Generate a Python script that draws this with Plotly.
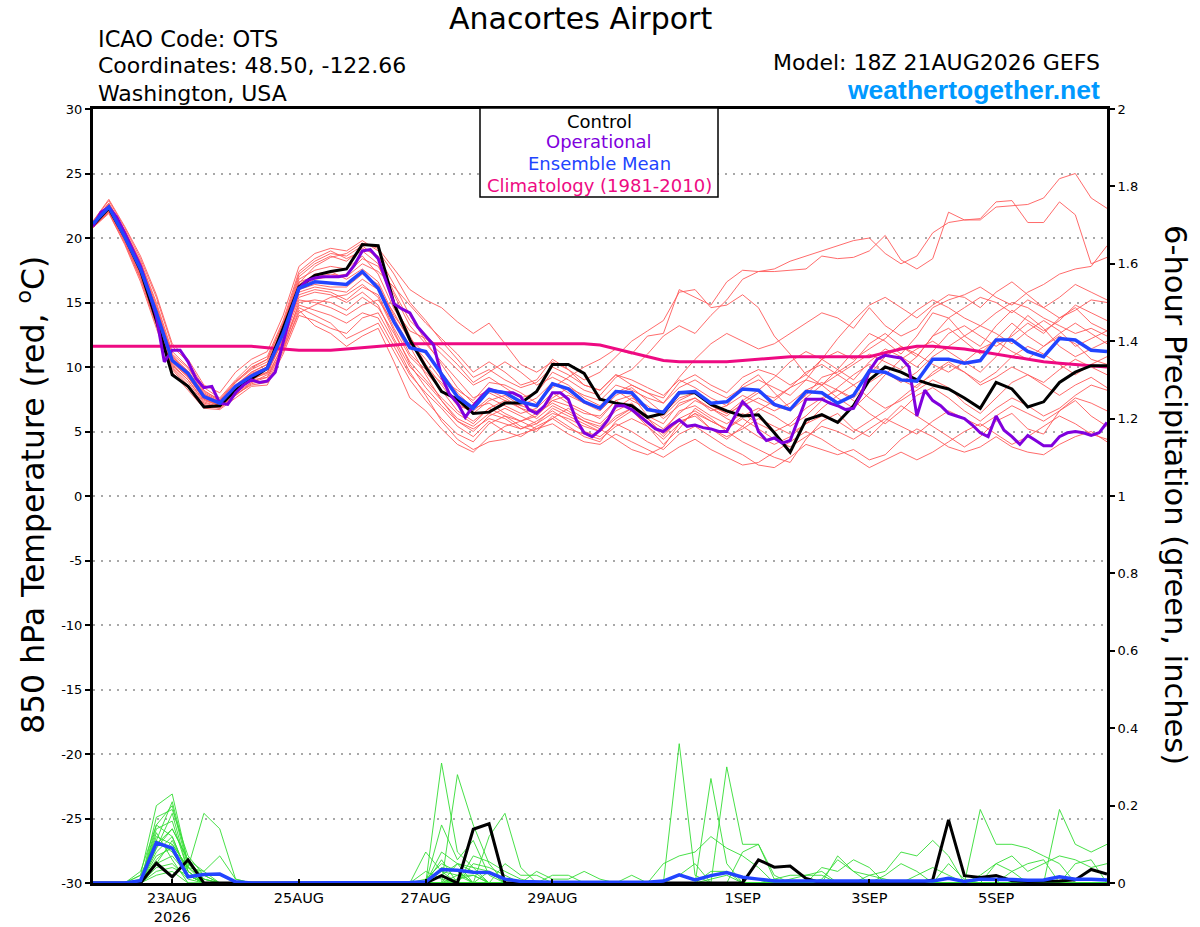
import pandas as pd
import plotly.graph_objects as go

init = pd.Timestamp("2026-08-21 18:00")
hours6 = list(range(0, 385, 6))
hours3 = list(range(0, 385, 3))

# 850 hPa temperature (C), 6-hourly
control_t = [21.0, 22.3, 20.1, 17.5, 13.6, 9.4, 8.5, 6.9, 7.0, 8.2, 9.1, 9.9, 13.0, 16.2, 17.1, 17.4, 17.6, 19.5,
             19.4, 14.9, 12.1, 10.0, 8.1, 7.5, 6.4, 6.5, 7.2, 7.2, 8.1, 10.2, 10.2, 9.5, 7.5,
             7.2, 7.0, 6.1, 6.4, 8.0, 8.0, 7.1, 6.6, 6.2, 6.3, 4.9, 3.4, 5.9, 6.3, 5.7, 7.0,
             9.0, 10.0, 9.6, 9.0, 8.6, 8.3, 7.6, 6.8, 8.8, 8.3, 6.9, 7.3, 8.8, 9.6, 10.1, 10.1]
mean_t = [21.1, 22.4, 20.1, 17.6, 14.2, 10.5, 9.5, 7.7, 7.2, 8.5, 9.3, 9.9, 12.6, 16.1, 16.6, 16.5, 16.4, 17.4,
          16.1, 13.5, 11.5, 11.2, 9.5, 7.7, 6.8, 8.2, 8.0, 7.3, 7.0, 8.7, 8.3, 7.3, 6.8,
          8.1, 8.0, 6.7, 6.5, 8.0, 8.1, 7.2, 7.3, 8.3, 8.2, 7.1, 6.7, 8.1, 8.0, 7.2, 7.8,
          9.7, 9.6, 9.0, 8.9, 10.6, 10.6, 10.3, 10.5, 12.1, 12.1, 11.2, 10.8, 12.2, 12.1, 11.3, 11.2]
clim_t = [11.6, 11.6, 11.6, 11.6, 11.6, 11.6, 11.6, 11.6, 11.6, 11.6, 11.6, 11.5, 11.4, 11.3, 11.3, 11.3, 11.4,
          11.5, 11.6, 11.7, 11.8, 11.8, 11.8, 11.8, 11.8, 11.8, 11.8, 11.8, 11.8, 11.8, 11.8, 11.8,
          11.7, 11.4, 11.1, 10.8, 10.5, 10.4, 10.4, 10.4, 10.4, 10.5, 10.6, 10.7, 10.8, 10.8, 10.8,
          10.8, 10.8, 10.8, 11.1, 11.4, 11.6, 11.6, 11.5, 11.4, 11.2, 11.0, 10.8, 10.6, 10.4, 10.3,
          10.2, 10.1, 10.0]

# operational run, 3-hourly
oper_t = [20.9, 22.0, 22.4, 21.6, 20.4, 19.1, 17.8, 16.0, 13.9, 10.4, 11.3, 11.3, 10.4, 9.1, 8.4, 8.5,
          7.2, 7.1, 8.0, 8.6, 9.0, 8.8, 8.9, 9.6, 11.8, 14.2, 16.1, 16.7, 16.9, 17.0, 17.0, 17.0,
          17.1, 17.9, 19.0, 19.1, 18.4, 16.7, 14.9, 14.5, 14.2, 13.1, 12.4, 11.7, 9.3, 7.9, 7.2, 6.1,
          7.0, 7.7, 8.3, 8.1, 8.0, 8.0, 7.7, 6.7, 6.4, 7.0, 8.0, 8.0, 7.5, 5.9, 4.9, 4.6,
          5.1, 5.9, 7.0, 7.0, 6.7, 6.2, 5.7, 5.2, 5.0, 5.5, 5.9, 5.4, 5.5, 5.3, 5.2, 5.0,
          5.0, 6.2, 7.3, 6.7, 5.0, 4.3, 4.5, 4.1, 4.3, 5.9, 7.5, 7.5, 7.5, 7.2, 7.0, 6.7,
          6.8, 7.9, 9.7, 10.6, 10.9, 10.8, 10.7, 10.0, 6.2, 8.2, 7.4, 7.0, 6.4, 6.2, 6.0, 5.5,
          4.9, 4.6, 6.2, 5.1, 4.6, 4.0, 4.7, 4.3, 3.9, 3.9, 4.6, 4.9, 5.0, 4.9, 4.7, 4.9,
          5.7]

member_t = [
    [21.2, 22.6, 20.5, 17.9, 14.6, 10.9, 9.6, 7.9, 7.3, 8.6, 9.6, 10.2, 13.0, 16.8, 17.5, 17.8,
     17.6, 18.6, 17.2, 14.5, 12.8, 12.2, 11.0, 9.8, 8.6, 9.2, 8.4, 7.6, 8.0, 9.6, 9.0, 8.2,
     7.8, 9.2, 9.8, 11.0, 12.4, 13.2, 12.6, 14.0, 15.2, 16.8, 17.4, 17.6, 18.2, 18.6, 19.0, 19.4,
     19.8, 20.0, 18.8, 18.0, 18.6, 20.4, 21.2, 21.4, 21.4, 22.4, 22.5, 22.6, 23.1, 24.6, 25.0, 23.1, 22.3],
    [20.9, 22.2, 20.0, 17.4, 14.0, 10.3, 9.2, 7.5, 7.0, 8.2, 9.0, 9.6, 12.2, 15.8, 16.2, 16.0,
     15.8, 16.8, 16.0, 14.2, 12.0, 10.6, 9.0, 8.2, 7.4, 8.8, 8.6, 8.0, 7.2, 8.4, 9.2, 10.0,
     10.6, 11.4, 11.0, 12.4, 12.6, 16.0, 15.4, 14.8, 16.6, 17.5, 17.4, 17.4, 17.5, 17.6, 18.6, 18.4,
     18.5, 19.0, 20.2, 18.3, 17.6, 18.4, 22.0, 21.4, 21.5, 22.8, 22.9, 21.2, 21.2, 22.8, 21.8, 18.0, 18.5],
    [21.1, 22.5, 20.3, 17.8, 14.5, 10.8, 9.5, 7.8, 7.2, 8.5, 9.5, 10.0, 12.8, 16.5, 17.8, 18.5,
     18.8, 19.6, 19.2, 17.6, 16.0, 15.2, 14.6, 13.5, 12.6, 13.4, 11.8, 10.2, 9.6, 10.4, 9.8, 8.6,
     8.2, 9.4, 8.6, 8.0, 7.6, 9.2, 10.6, 11.8, 12.6, 12.0, 11.4, 11.8, 12.6, 13.4, 14.2, 13.8,
     13.0, 14.6, 13.2, 12.4, 13.0, 14.6, 15.2, 15.6, 16.2, 15.4, 14.8, 15.8, 16.4, 17.2, 17.6, 17.8, 19.4],
    [20.8, 22.0, 19.6, 16.8, 13.2, 9.8, 8.4, 7.0, 6.8, 7.8, 8.8, 9.4, 11.6, 14.6, 14.0, 13.4,
     12.2, 12.8, 13.4, 11.2, 9.0, 7.4, 6.0, 4.8, 4.2, 5.6, 6.2, 5.4, 5.0, 6.2, 5.4, 4.6,
     4.2, 5.8, 6.6, 5.4, 4.0, 5.2, 6.8, 6.0, 5.0, 4.2, 3.6, 3.0, 2.6, 4.4, 5.8, 6.4,
     5.2, 4.6, 5.8, 7.0, 6.2, 5.4, 4.6, 3.8, 4.6, 5.8, 6.4, 5.2, 4.8, 6.6, 7.4, 6.2, 5.4],
    [21.3, 22.9, 20.8, 18.4, 15.4, 11.6, 10.4, 8.4, 7.6, 9.0, 10.2, 10.8, 13.6, 17.4, 18.4, 19.0,
     18.4, 19.0, 18.0, 15.0, 12.4, 10.2, 8.6, 7.0, 6.6, 7.6, 7.0, 6.4, 6.8, 8.0, 7.2, 6.6,
     6.0, 7.4, 7.8, 6.2, 5.6, 7.2, 7.6, 6.6, 7.0, 8.6, 9.4, 8.0, 6.8, 7.8, 9.2, 9.6,
     10.4, 11.8, 12.6, 11.6, 10.8, 12.4, 13.8, 14.6, 15.4, 15.0, 14.2, 15.2, 14.6, 13.8, 14.4, 15.2, 15.0],
    [21.0, 22.3, 20.0, 17.2, 13.8, 10.2, 9.0, 7.4, 7.0, 8.0, 9.0, 9.2, 11.4, 15.0, 15.2, 15.0,
     14.4, 15.4, 14.6, 12.6, 10.4, 9.0, 7.6, 6.4, 5.6, 6.8, 7.4, 6.8, 6.0, 7.0, 6.4, 5.8,
     5.4, 6.6, 7.2, 6.0, 5.2, 6.4, 7.4, 6.8, 6.2, 7.2, 8.0, 7.6, 8.4, 9.6, 10.2, 9.4,
     8.6, 9.4, 10.8, 11.6, 11.0, 10.2, 9.6, 10.4, 11.4, 12.0, 11.2, 10.6, 11.6, 12.4, 11.8, 10.6, 10.2],
    [21.1, 22.4, 20.2, 17.6, 14.2, 10.6, 9.6, 7.6, 7.1, 8.4, 9.2, 9.8, 12.6, 16.0, 16.4, 16.2,
     16.2, 17.2, 16.4, 13.8, 11.6, 9.4, 7.4, 6.0, 5.4, 6.4, 6.0, 5.2, 5.8, 6.6, 5.8, 5.0,
     4.6, 5.6, 5.0, 4.2, 3.6, 4.8, 5.4, 4.6, 3.8, 3.2, 2.4, 2.2, 3.0, 4.0, 3.6, 3.2,
     3.6, 2.8, 3.2, 4.4, 5.2, 4.6, 3.8, 3.4, 3.8, 4.6, 3.8, 3.4, 3.2, 4.0, 4.6, 5.0, 4.2],
    [20.9, 22.1, 19.8, 17.0, 13.6, 10.0, 8.8, 7.2, 6.9, 7.9, 8.6, 8.8, 11.2, 14.4, 13.2, 12.6,
     11.6, 12.4, 13.0, 10.4, 7.6, 6.6, 5.2, 4.0, 3.4, 4.6, 5.4, 5.8, 6.4, 7.2, 6.6, 5.8,
     5.2, 4.4, 3.6, 3.2, 3.8, 5.6, 6.4, 5.2, 4.6, 5.2, 6.0, 5.4, 4.8, 5.6, 6.8, 7.8,
     8.6, 7.6, 6.8, 7.4, 8.2, 9.0, 8.4, 7.2, 6.4, 7.6, 8.8, 9.4, 8.6, 7.8, 8.6, 9.2, 8.4],
    [21.2, 22.7, 20.6, 18.2, 15.0, 11.2, 10.0, 8.2, 7.4, 8.8, 10.0, 10.6, 13.4, 16.6, 17.0, 17.2,
     17.0, 18.0, 17.4, 16.2, 14.8, 13.4, 12.2, 11.0, 9.6, 10.4, 9.6, 8.6, 9.0, 10.6, 9.8, 9.0,
     9.6, 10.8, 12.0, 12.8, 13.6, 15.8, 16.0, 14.6, 14.8, 15.6, 14.6, 12.4, 11.0, 9.4, 8.6, 9.8,
     11.2, 12.6, 12.0, 11.0, 12.4, 14.2, 13.8, 12.4, 11.6, 13.2, 14.4, 13.6, 12.8, 13.6, 14.8, 14.2, 13.6],
    [21.0, 22.2, 19.9, 17.3, 13.9, 10.4, 9.2, 7.6, 7.0, 8.2, 9.4, 10.0, 12.4, 15.4, 15.8, 15.6,
     15.0, 15.8, 14.8, 12.2, 10.0, 8.8, 7.4, 5.8, 5.0, 6.2, 6.8, 6.2, 5.6, 6.4, 6.0, 5.4,
     5.0, 6.0, 6.8, 6.0, 4.8, 5.8, 6.2, 5.2, 4.4, 5.4, 6.6, 7.4, 8.4, 9.0, 8.6, 7.6,
     6.8, 8.0, 9.4, 10.6, 11.4, 12.0, 11.2, 10.4, 9.6, 10.8, 12.6, 14.0, 13.0, 11.6, 10.8, 11.4, 12.0],
    [21.1, 22.5, 20.4, 17.8, 14.4, 10.6, 9.4, 7.8, 7.2, 8.6, 9.4, 10.0, 12.8, 16.2, 16.8, 17.0,
     17.2, 18.4, 17.8, 15.6, 13.2, 11.8, 10.4, 9.0, 7.6, 8.2, 7.6, 6.8, 6.4, 7.6, 8.4, 7.8,
     7.4, 8.6, 8.2, 7.6, 7.2, 8.8, 9.4, 8.6, 8.0, 9.2, 9.8, 9.4, 8.6, 9.4, 10.6, 11.2,
     10.6, 11.4, 12.2, 13.4, 14.4, 15.2, 14.6, 13.8, 13.2, 14.2, 15.0, 14.6, 13.8, 13.2, 12.6, 13.0, 12.4],
    [20.8, 21.9, 19.5, 16.6, 13.0, 9.6, 8.2, 6.8, 6.7, 7.6, 8.5, 8.6, 11.0, 14.0, 13.6, 13.0,
     12.6, 13.8, 14.2, 12.0, 9.6, 7.8, 5.8, 4.4, 3.6, 4.2, 4.4, 4.8, 5.2, 5.6, 4.8, 4.2,
     4.0, 4.8, 4.2, 3.6, 3.0, 3.8, 4.4, 3.6, 3.0, 2.4, 2.6, 3.4, 4.2, 5.0, 4.4, 3.6,
     3.0, 2.2, 2.8, 3.4, 2.8, 3.4, 4.2, 5.0, 5.6, 4.8, 4.0, 4.6, 5.4, 6.2, 5.6, 4.8, 4.4],
    [21.2, 22.6, 20.4, 17.9, 14.6, 10.8, 9.7, 8.0, 7.4, 8.8, 9.8, 10.4, 13.2, 17.0, 18.0, 18.6,
     18.2, 19.2, 18.6, 16.4, 14.0, 12.0, 10.2, 8.4, 7.2, 8.0, 7.4, 7.0, 7.6, 8.8, 8.0, 7.2,
     6.8, 8.0, 8.6, 8.0, 7.2, 8.4, 9.0, 8.2, 7.6, 8.4, 9.0, 8.4, 7.8, 9.0, 10.6, 12.2,
     13.6, 14.8, 15.4, 14.6, 13.8, 14.8, 15.6, 15.4, 14.6, 15.8, 16.6, 15.6, 14.6, 15.4, 16.4, 15.8, 15.2],
    [21.0, 22.3, 20.1, 17.5, 14.0, 10.4, 9.3, 7.7, 7.1, 8.3, 9.2, 9.6, 12.0, 15.2, 15.0, 14.6,
     14.0, 14.8, 15.2, 13.4, 11.0, 9.8, 8.8, 7.2, 6.4, 7.4, 7.8, 7.0, 6.6, 7.4, 7.0, 6.4,
     6.2, 7.4, 6.6, 5.6, 5.0, 6.6, 7.0, 6.2, 5.6, 6.4, 5.6, 5.0, 5.6, 6.8, 7.6, 8.2,
     7.4, 6.4, 5.6, 6.6, 7.8, 8.4, 7.6, 6.6, 5.8, 6.8, 7.6, 7.0, 6.2, 6.8, 7.8, 8.6, 8.2],
    [21.3, 23.0, 20.9, 18.6, 15.6, 11.8, 10.6, 8.6, 8.0, 9.6, 10.6, 11.2, 14.0, 17.8, 18.8, 19.2,
     19.0, 19.8, 19.0, 17.2, 15.0, 13.6, 12.0, 10.6, 9.2, 9.8, 9.0, 8.4, 8.8, 10.0, 9.4, 8.6,
     8.2, 9.4, 9.0, 8.4, 7.8, 9.0, 8.4, 7.6, 7.0, 7.8, 7.2, 6.6, 7.2, 8.2, 8.8, 8.2,
     7.6, 8.8, 9.6, 9.0, 8.4, 9.6, 10.4, 9.6, 8.8, 9.6, 10.8, 11.6, 11.0, 10.2, 9.4, 10.2, 10.8],
    [20.9, 22.1, 19.9, 17.1, 13.7, 10.1, 9.0, 7.3, 6.9, 8.0, 8.8, 9.2, 11.8, 14.8, 14.4, 14.0,
     13.4, 14.2, 13.8, 11.6, 9.4, 8.0, 6.8, 5.4, 4.6, 5.8, 5.0, 4.6, 5.4, 6.0, 5.2, 4.8,
     4.4, 5.4, 6.0, 5.4, 4.4, 5.6, 6.4, 5.8, 5.2, 6.2, 6.8, 6.2, 5.4, 6.2, 7.4, 8.4,
     9.4, 10.2, 9.6, 8.8, 9.6, 10.8, 11.6, 12.4, 13.2, 12.6, 11.8, 12.8, 13.6, 12.8, 11.6, 12.2, 12.8],
    [21.1, 22.5, 20.3, 17.7, 14.3, 10.7, 9.5, 7.9, 7.3, 8.5, 9.6, 10.2, 13.0, 16.4, 17.2, 17.4,
     16.8, 17.6, 16.6, 14.0, 12.2, 11.0, 9.6, 8.0, 6.8, 7.2, 6.4, 5.8, 6.2, 7.4, 7.8, 7.2,
     6.6, 7.8, 8.4, 7.4, 6.4, 7.6, 8.0, 7.0, 6.4, 7.4, 8.2, 9.2, 10.4, 11.2, 10.6, 9.8,
     9.0, 10.4, 11.4, 10.8, 10.0, 11.2, 12.6, 13.2, 12.4, 11.6, 12.4, 13.4, 12.6, 13.8, 14.6, 13.4, 12.8],
    [21.0, 22.2, 20.0, 17.4, 14.1, 10.5, 9.3, 7.5, 7.0, 8.3, 9.1, 9.5, 12.2, 15.6, 16.0, 15.8,
     15.2, 16.2, 15.6, 13.0, 10.8, 9.6, 8.2, 6.6, 5.8, 6.8, 6.2, 5.8, 5.2, 6.0, 6.8, 6.0,
     5.6, 6.8, 7.6, 7.0, 6.0, 7.0, 7.6, 6.8, 6.0, 5.4, 4.6, 4.0, 4.6, 5.6, 6.2, 5.8,
     5.0, 5.8, 6.6, 7.6, 8.6, 9.4, 10.2, 9.6, 8.6, 9.2, 10.0, 9.4, 8.8, 9.8, 10.6, 10.0, 9.4],
    [21.2, 22.7, 20.6, 18.1, 14.8, 11.0, 9.9, 8.1, 7.5, 8.9, 9.9, 10.6, 13.4, 17.2, 18.2, 18.8,
     18.6, 19.4, 18.4, 15.8, 13.6, 12.4, 11.4, 10.2, 8.8, 9.6, 10.4, 9.6, 8.6, 9.2, 8.6, 7.6,
     7.0, 8.2, 7.4, 6.8, 6.2, 7.4, 8.0, 7.0, 6.4, 7.0, 7.6, 7.0, 6.6, 7.6, 8.6, 9.4,
     10.2, 11.0, 10.4, 9.8, 10.8, 12.4, 13.0, 12.0, 11.0, 12.2, 13.4, 12.4, 11.6, 12.6, 13.4, 12.6, 11.8],
    [20.9, 22.0, 19.7, 16.9, 13.4, 9.9, 8.6, 7.1, 6.8, 7.8, 8.7, 9.0, 11.4, 14.2, 14.8, 15.4,
     15.6, 16.4, 15.4, 12.8, 10.2, 8.4, 7.0, 5.8, 5.2, 6.0, 5.6, 5.2, 5.6, 6.8, 6.2, 5.6,
     5.0, 6.2, 6.8, 5.8, 4.6, 6.0, 6.6, 5.8, 5.2, 6.0, 5.2, 4.4, 3.8, 4.6, 5.4, 5.0,
     4.4, 5.2, 6.0, 5.4, 4.8, 5.8, 6.6, 6.0, 5.4, 6.2, 7.0, 6.4, 5.8, 6.6, 7.6, 7.2, 6.6],
]

# 6-hour precipitation (inches), 6-hourly
control_p = [0, 0, 0, 0, 0.051, 0.016, 0.06, 0, 0, 0, 0, 0, 0, 0, 0, 0,
             0, 0, 0, 0, 0, 0, 0.019, 0, 0.139, 0.153, 0, 0, 0, 0, 0, 0,
             0, 0, 0, 0, 0, 0, 0, 0, 0, 0, 0.06, 0.041, 0.044, 0.012, 0, 0,
             0, 0, 0, 0, 0, 0.008, 0.163, 0.019, 0.014, 0.019, 0.006, 0.004, 0.005, 0.005, 0.008, 0.035,
             0.023]
mean_p = [0, 0, 0, 0.006, 0.104, 0.09, 0.016, 0.022, 0.023, 0.003, 0, 0, 0, 0, 0, 0,
          0, 0, 0, 0, 0.001, 0.003, 0.035, 0.033, 0.028, 0.027, 0.01, 0.004, 0.002, 0.002, 0.002, 0.002,
          0.002, 0.002, 0.003, 0.002, 0.005, 0.021, 0.008, 0.019, 0.027, 0.015, 0.01, 0.005, 0.005, 0.005, 0.005, 0.005,
          0.005, 0.005, 0.005, 0.005, 0.005, 0.005, 0.012, 0.004, 0.01, 0.01, 0.009, 0.007, 0.008, 0.016, 0.01, 0.01,
          0.008]

# ensemble members: forecast hour -> precip, all other hours dry
member_p = [
    {18: 0.02, 24: 0.20, 30: 0.23, 36: 0.05, 42: 0.01, 126: 0.01, 132: 0.05, 138: 0.03, 222: 0.36, 228: 0.02},
    {18: 0.03, 24: 0.15, 30: 0.20, 36: 0.04, 132: 0.31, 138: 0.08, 144: 0.04, 276: 0.01, 282: 0.06, 288: 0.03},
    {24: 0.17, 30: 0.19, 36: 0.07, 42: 0.02, 138: 0.28, 144: 0.15, 150: 0.05, 234: 0.27, 240: 0.05},
    {24: 0.14, 30: 0.16, 36: 0.03, 132: 0.15, 138: 0.06, 144: 0.11, 150: 0.02, 240: 0.30, 246: 0.10, 252: 0.10, 258: 0.02},
    {18: 0.01, 24: 0.12, 30: 0.10, 36: 0.04, 42: 0.18, 48: 0.14, 54: 0.01, 150: 0.12, 156: 0.18, 162: 0.04,
     336: 0.19, 342: 0.10, 348: 0.10, 354: 0.09, 360: 0.07, 366: 0.05},
    {24: 0.10, 30: 0.14, 36: 0.06, 42: 0.03, 48: 0.07, 54: 0.01, 126: 0.08, 132: 0.03, 216: 0.05, 222: 0.07,
     228: 0.08, 234: 0.12, 240: 0.09, 246: 0.07, 252: 0.04},
    {24: 0.08, 30: 0.12, 36: 0.02, 132: 0.08, 138: 0.05, 234: 0.03, 240: 0.03, 282: 0.07, 288: 0.03, 294: 0.02,
     300: 0.03, 306: 0.08, 312: 0.07, 318: 0.11, 324: 0.07},
    {24: 0.06, 30: 0.10, 36: 0.04, 42: 0.01, 144: 0.07, 150: 0.055, 156: 0.03, 162: 0.01, 366: 0.19, 372: 0.10,
     378: 0.08, 384: 0.10},
    {24: 0.05, 30: 0.07, 36: 0.02, 138: 0.05, 144: 0.04, 150: 0.03, 246: 0.08, 252: 0.10, 258: 0.01, 342: 0.05,
     348: 0.07, 354: 0.03, 360: 0.05, 366: 0.07, 372: 0.06, 378: 0.04, 384: 0.05},
    {24: 0.04, 30: 0.05, 36: 0.01, 132: 0.04, 138: 0.03, 276: 0.04, 282: 0.03, 288: 0.06, 294: 0.04, 324: 0.05, 330: 0.01},
    {24: 0.09, 30: 0.18, 36: 0.03, 168: 0.03, 174: 0.01, 180: 0.01, 186: 0.03, 192: 0.01},
    {24: 0.07, 30: 0.09, 36: 0.04, 42: 0.03, 132: 0.02, 138: 0.05, 144: 0.03, 300: 0.02, 306: 0.05, 312: 0.03},
    {18: 0.02, 24: 0.11, 30: 0.08, 36: 0.02, 144: 0.05, 150: 0.04, 156: 0.02, 204: 0.02, 222: 0.02, 228: 0.05},
    {24: 0.13, 30: 0.06, 132: 0.03, 138: 0.02, 258: 0.01, 264: 0.02, 270: 0.02, 276: 0.03, 348: 0.03, 354: 0.05, 360: 0.06},
    {24: 0.03, 30: 0.04, 36: 0.02, 156: 0.05, 162: 0.02, 168: 0.02, 372: 0.05, 378: 0.06},
    {24: 0.15, 30: 0.12, 36: 0.02, 126: 0.03, 132: 0.01, 294: 0.02, 300: 0.01},
    {24: 0.02, 30: 0.03, 138: 0.01, 144: 0.02, 264: 0.01, 270: 0.02, 276: 0.02},
    {24: 0.11, 30: 0.21, 36: 0.05, 42: 0.02, 132: 0.06, 312: 0.02, 318: 0.04, 324: 0.02},
    {24: 0.09, 30: 0.14, 36: 0.06, 42: 0.01, 150: 0.03, 174: 0.02, 180: 0.02, 336: 0.02, 342: 0.05, 348: 0.03},
    {24: 0.05, 30: 0.11, 36: 0.03, 138: 0.02, 144: 0.02, 234: 0.01, 240: 0.02},
]

tick_days = ["2026-08-23", "2026-08-25", "2026-08-27", "2026-08-29", "2026-09-01", "2026-09-03", "2026-09-05"]
tick_text = ["23AUG<br>2026", "25AUG", "27AUG", "29AUG", "1SEP", "3SEP", "5SEP"]
temp_ticks = [-30, -25, -20, -15, -10, -5, 0, 5, 10, 15, 20, 25, 30]
precip_ticks = [0, 0.2, 0.4, 0.6, 0.8, 1, 1.2, 1.4, 1.6, 1.8, 2]

t6 = [init + pd.Timedelta(hours=h) for h in hours6]
t3 = [init + pd.Timedelta(hours=h) for h in hours3]

FONT = "DejaVu Sans"
RED = "#ff5a5a"
GREEN = "#33dd33"
PURPLE = "#8000dd"
BLUE = "#2244ff"
CLIM = "#ee0a82"

fig = go.Figure()

for m in member_t:
    fig.add_trace(go.Scatter(x=t6, y=m, mode="lines", line=dict(color=RED, width=0.9)))

for m in member_p:
    fig.add_trace(go.Scatter(x=t6, y=[m.get(h, 0) for h in hours6], mode="lines",
                             line=dict(color=GREEN, width=0.9), yaxis="y2"))

fig.add_trace(go.Scatter(x=t6, y=clim_t, mode="lines", line=dict(color=CLIM, width=3)))
fig.add_trace(go.Scatter(x=t6, y=control_t, mode="lines", line=dict(color="black", width=3)))
fig.add_trace(go.Scatter(x=t3, y=oper_t, mode="lines", line=dict(color=PURPLE, width=3)))
fig.add_trace(go.Scatter(x=t6, y=mean_t, mode="lines", line=dict(color=BLUE, width=3.5)))
fig.add_trace(go.Scatter(x=t6, y=control_p, mode="lines", line=dict(color="black", width=3), yaxis="y2"))
fig.add_trace(go.Scatter(x=t6, y=mean_p, mode="lines", line=dict(color=BLUE, width=3.5), yaxis="y2"))

L, R, T, B = 93, 93, 109, 44
W, H = 1200, 927
pw, ph = W - L - R, H - T - B


def px(x):
    return (x - L) / pw


def py(y):
    return (H - B - y) / ph


def note(text, x, y, size, color="black", xanchor="left", angle=0, family=FONT):
    fig.add_annotation(text=text, x=px(x), y=py(y), xref="paper", yref="paper", showarrow=False,
                       xanchor=xanchor, yanchor="middle", textangle=angle,
                       font=dict(family=family, size=size, color=color))


note("Anacortes Airport", 580, 18, 30, xanchor="center")
note("ICAO Code: OTS", 96, 39, 22.5)
note("Coordinates: 48.50, -122.66", 96, 66, 22)
note("Washington, USA", 96, 93, 22)
note("Model: 18Z 21AUG2026 GEFS", 1102, 63, 22, xanchor="right")
note("<b>weathertogether.net</b>", 1102, 90, 26.5, color="#0099ff", xanchor="right",
     family="Liberation Sans, Arial, sans-serif")

fig.add_shape(type="rect", xref="paper", yref="paper", x0=px(480), x1=px(718), y0=py(197), y1=py(108),
              line=dict(color="black", width=1.5), fillcolor="white", layer="above")
note("Control", 599, 121, 18, xanchor="center")
note("Operational", 599, 142, 18, color=PURPLE, xanchor="center")
note("Ensemble Mean", 599, 163, 18, color=BLUE, xanchor="center")
note("Climatology (1981-2010)", 599, 185, 18, color=CLIM, xanchor="center")

note("850 hPa Temperature (red, <sup>o</sup>C)", 31, 495, 31.5, xanchor="center", angle=-90)
note("6-hour Precipitation (green, inches)", 1175, 495, 30.5, xanchor="center", angle=90)

fig.update_layout(
    width=W, height=H,
    margin=dict(l=L, r=R, t=T, b=B, autoexpand=False),
    paper_bgcolor="white", plot_bgcolor="white",
    showlegend=False,
    font=dict(family=FONT, size=13, color="black"),
    xaxis=dict(
        type="date", automargin=False,
        range=[init, init + pd.Timedelta(hours=384)],
        tickvals=tick_days, ticktext=tick_text,
        ticks="inside", ticklen=4, tickwidth=1.5, tickcolor="black",
        showgrid=False, zeroline=False,
        showline=True, linecolor="black", linewidth=3, mirror=True,
        tickfont=dict(size=14.5),
    ),
    yaxis=dict(
        range=[-30, 30], automargin=False,
        tickvals=temp_ticks, ticktext=[str(v) for v in temp_ticks],
        ticks="outside", ticklen=5, tickwidth=1.5, tickcolor="black",
        showgrid=True, gridcolor="#a8a8a8", griddash="2px,6px", gridwidth=1.5,
        zeroline=False,
        showline=True, linecolor="black", linewidth=3,
        tickfont=dict(size=13),
    ),
    yaxis2=dict(
        range=[0, 2], overlaying="y", side="right", automargin=False,
        tickvals=precip_ticks, ticktext=[str(v) for v in precip_ticks],
        ticks="outside", ticklen=5, tickwidth=1.5, tickcolor="black",
        showgrid=False, zeroline=False,
        showline=True, linecolor="black", linewidth=3,
        tickfont=dict(size=13),
    ),
)

fig.write_html("out.html", config={"displayModeBar": False},
               post_script="document.body.style.margin = '0';")
